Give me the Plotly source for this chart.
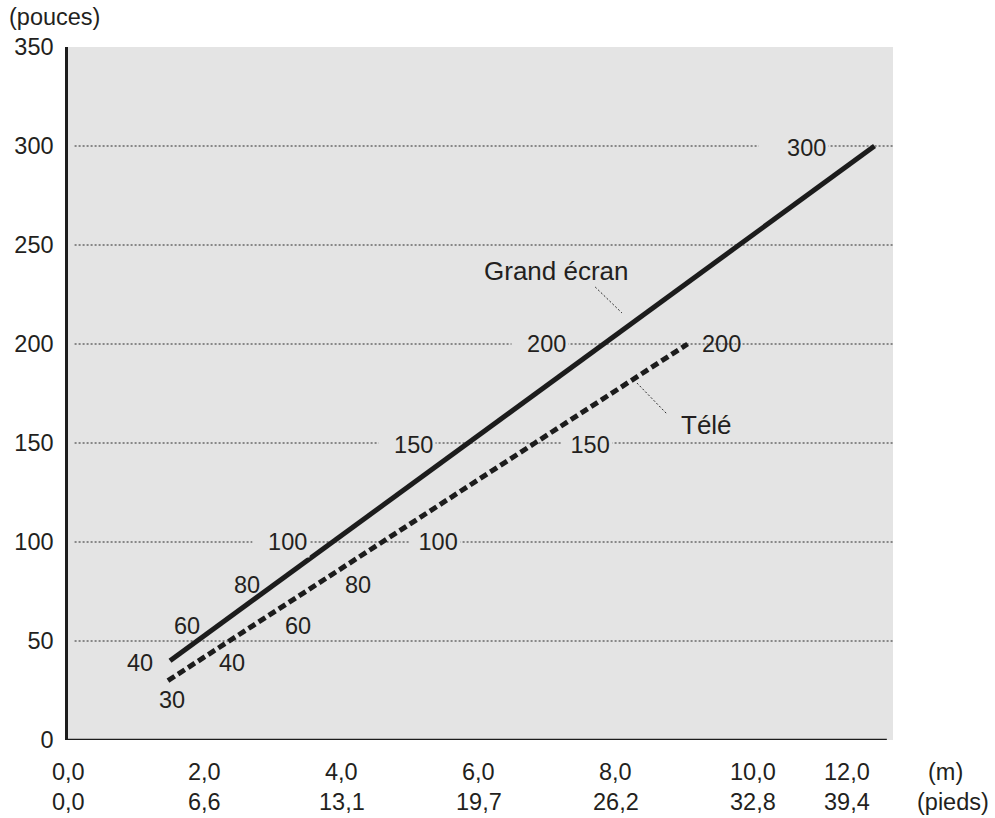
import plotly.graph_objects as go

# ---- data ----
ge_sizes = [40, 60, 80, 100, 150, 200, 300]           # Grand écran (pouces)
ge_dist = [1.49, 2.28, 3.07, 3.87, 5.84, 7.82, 11.78]  # m
tv_sizes = [30, 40, 60, 80, 100, 150, 200]             # Télé (pouces)
tv_dist = [1.46, 1.91, 2.80, 3.69, 4.59, 6.82, 9.05]   # m

y_ticks = [0, 50, 100, 150, 200, 250, 300, 350]
grid_vals = [50, 100, 150, 200, 250, 300]
x_ticks = [0, 2, 4, 6, 8, 10, 12]
x_labels_m = ["0,0", "2,0", "4,0", "6,0", "8,0", "10,0", "12,0"]
x_labels_ft = ["0,0", "6,6", "13,1", "19,7", "26,2", "32,8", "39,4"]

# ---- styling ----
FONT = "Liberation Sans, Arial, Helvetica, sans-serif"
TXT = "#231f20"
BG = "#e4e4e4"
FS = 23.5
NB = "\u00a0"
NBW = 0.278 * FS / 2

# label offsets (pixels) relative to each point, and left padding (nbsp count)
ge_off = [(-30, -2, 0), (-37, -5, 0), (-31, -3, 0), (-45, 0, 2), (-54, -2, 2), (-57, 0, 2), (-68, -2, 4)]
tv_off = [(4, -19, 0), (33, -2, 0), (38, -5, 0), (37, -3, 0), (56, 0, 1), (55, -2, 1), (34, 0, 0)]

fig = go.Figure()
fig.add_trace(go.Scatter(x=ge_dist, y=ge_sizes, mode="lines",
                         line=dict(color="#1c1c1c", width=5), hoverinfo="skip"))
fig.add_trace(go.Scatter(x=tv_dist, y=tv_sizes, mode="lines",
                         line=dict(color="#1c1c1c", width=5, dash="8px,4px"), hoverinfo="skip"))

GRID = dict(color="#2a2a2a", width=1, dash="2px,2px")
shapes = []
for g in grid_vals:
    shapes.append(dict(type="line", xref="paper", yref="y", x0=0.008, x1=1, y0=g, y1=g,
                       line=GRID, layer="below"))
# bottom axis line
shapes.append(dict(type="line", xref="x", yref="y", x0=0, x1=11.96, y0=0, y1=0,
                   line=dict(color="#1c1c1c", width=2.5), layer="above"))
# leader lines
shapes.append(dict(type="line", xref="x", yref="y", x0=7.70, y0=228.8, x1=8.09, y1=215.7,
                   line=GRID))
shapes.append(dict(type="line", xref="x", yref="y", x0=8.31, y0=180.3, x1=8.75, y1=164.6,
                   line=GRID))

ann = []
def size_label(x, y, s, off):
    dx, dy, pad = off
    text = NB * pad + str(s)
    ann.append(dict(x=x, y=y, xref="x", yref="y", text=text, showarrow=False,
                    xanchor="center", yanchor="middle", xshift=dx - pad * NBW, yshift=dy,
                    bgcolor=BG if pad else None, borderpad=2,
                    font=dict(family=FONT, size=FS, color=TXT)))

for x, y, s, o in zip(ge_dist, ge_sizes, ge_sizes, ge_off):
    size_label(x, y, s, o)
for x, y, s, o in zip(tv_dist, tv_sizes, tv_sizes, tv_off):
    size_label(x, y, s, o)

ann.append(dict(x=7.13, y=236.9, xref="x", yref="y", text="Grand écran", showarrow=False,
                font=dict(family=FONT, size=26, color=TXT)))
ann.append(dict(x=9.32, y=159.1, xref="x", yref="y", text="Télé", showarrow=False,
                font=dict(family=FONT, size=26, color=TXT)))

for i, (v, tm, tf) in enumerate(zip(x_ticks, x_labels_m, x_labels_ft)):
    xs = -43 if i == len(x_ticks) - 1 else 0
    for txt, ys in ((tm, -32), (tf, -62)):
        ann.append(dict(x=v, y=0, xref="x", yref="paper", text=txt, showarrow=False,
                        xanchor="center", yanchor="middle", xshift=xs, yshift=ys,
                        font=dict(family=FONT, size=FS, color=TXT)))

ann.append(dict(x=1.064, y=0, xref="paper", yref="paper", text="(m)", showarrow=False,
                xanchor="center", yanchor="middle", yshift=-32,
                font=dict(family=FONT, size=FS, color=TXT)))
ann.append(dict(x=1.073, y=0, xref="paper", yref="paper", text="(pieds)", showarrow=False,
                xanchor="center", yanchor="middle", yshift=-62,
                font=dict(family=FONT, size=FS, color=TXT)))
ann.append(dict(x=-0.0735, y=1.0, xref="paper", yref="paper", text="(pouces)", showarrow=False,
                xanchor="left", yanchor="middle", yshift=30,
                font=dict(family=FONT, size=FS, color=TXT)))

fig.update_layout(
    width=995, height=818,
    margin=dict(l=68, r=102, t=47, b=78, autoexpand=False),
    paper_bgcolor="white", plot_bgcolor=BG,
    showlegend=False,
    shapes=shapes, annotations=ann,
    xaxis=dict(range=[0, 12.05], showgrid=False, zeroline=False, showline=False,
               showticklabels=False, ticks="", fixedrange=True, automargin=False),
    yaxis=dict(range=[0, 350], tickvals=y_ticks, ticktext=[str(t) for t in y_ticks],
               showgrid=False, zeroline=False, showline=True, linecolor="#1c1c1c",
               linewidth=2.5, ticks="", ticklabelstandoff=7, automargin=False,
               tickfont=dict(family=FONT, size=FS, color=TXT), fixedrange=True),
)

fig.write_html("out.html")
